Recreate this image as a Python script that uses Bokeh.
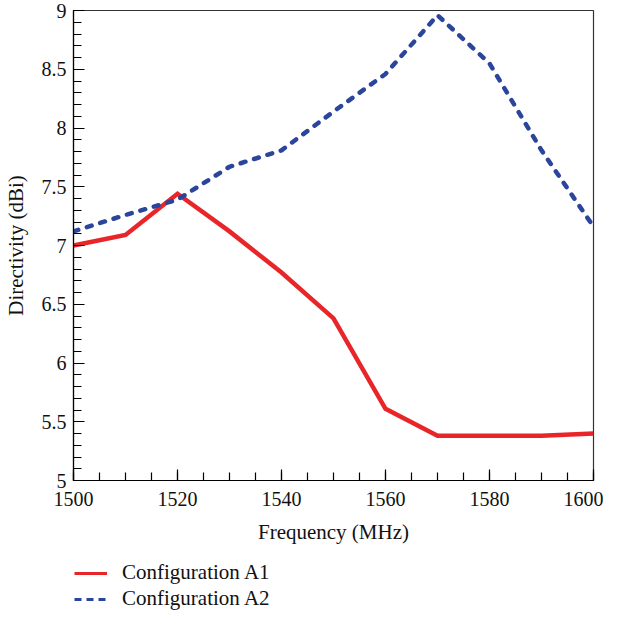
from bokeh.plotting import figure
from bokeh.models import Legend, LegendItem, FixedTicker, Range1d
from bokeh.layouts import column
from bokeh.embed import file_html
from bokeh.resources import INLINE

freq = [1500, 1510, 1520, 1530, 1540, 1550, 1560, 1570, 1580, 1590, 1600]
a1 = [7.00, 7.09, 7.44, 7.12, 6.77, 6.38, 5.61, 5.38, 5.38, 5.38, 5.40]
a2 = [7.12, 7.26, 7.39, 7.67, 7.81, 8.14, 8.46, 8.96, 8.55, 7.81, 7.16]
series_names = ["Configuration A1", "Configuration A2"]

x_ticks = [1500, 1520, 1540, 1560, 1580, 1600]
y_ticks = [5, 5.5, 6, 6.5, 7, 7.5, 8, 8.5, 9]
y_labels = ["5", "5.5", "6", "6.5", "7", "7.5", "8", "8.5", "9"]
x_minor = [1500 + 5 * i for i in range(21)]
y_minor = [round(5 + 0.1 * i, 1) for i in range(41)]

FONT = "Liberation Serif"
RED = "#e8262a"
BLUE = "#2a459b"

p = figure(width=603, height=551, output_backend="svg", toolbar_location=None,
           x_range=Range1d(1500, 1600), y_range=Range1d(5, 9),
           min_border_left=64, min_border_right=10, min_border_top=10,
           min_border_bottom=71,
           x_axis_label="Frequency (MHz)", y_axis_label="Directivity (dBi)")
p.grid.visible = False
p.outline_line_color = "#333333"
p.outline_line_width = 1.2

p.line(freq, a1, line_color=RED, line_width=4.5, line_join="miter")
p.line(freq, a2, line_color=BLUE, line_width=4.5, line_dash="5 9", line_cap="round")

p.xaxis.ticker = FixedTicker(ticks=x_ticks, minor_ticks=x_minor)
p.yaxis.ticker = FixedTicker(ticks=y_ticks, minor_ticks=y_minor)
p.yaxis.major_label_overrides = {t: l for t, l in zip(y_ticks, y_labels)}
for ax in (p.xaxis, p.yaxis):
    ax.axis_line_color = "black"
    ax.axis_line_width = 1.2
    ax.major_tick_line_color = "black"
    ax.minor_tick_line_color = "black"
    ax.major_tick_line_width = 1.2
    ax.minor_tick_line_width = 1.2
    ax.major_tick_in = 11
    ax.major_tick_out = 0
    ax.minor_tick_in = 8
    ax.minor_tick_out = 0
    ax.major_label_text_font = FONT
    ax.major_label_text_font_size = "20px"
    ax.major_label_text_color = "#111111"
    ax.axis_label_text_font = FONT
    ax.axis_label_text_font_size = "21px"
    ax.axis_label_text_font_style = "normal"
    ax.axis_label_text_color = "#111111"
p.xaxis.major_label_standoff = 11
p.yaxis.major_label_standoff = 7
p.xaxis.axis_label_standoff = 11
p.yaxis.axis_label_standoff = 11

# legend panel below the chart
q = figure(width=603, height=60, output_backend="svg", toolbar_location=None,
           x_range=Range1d(0, 1), y_range=Range1d(0, 1),
           x_axis_type=None, y_axis_type=None,
           min_border_left=0, min_border_right=0, min_border_top=0, min_border_bottom=0)
q.grid.visible = False
q.outline_line_color = None
l1 = q.line([-5, -4], [-5, -4], line_color=RED, line_width=3)
l2 = q.line([-5, -4], [-5, -4], line_color=BLUE, line_width=3, line_dash="7 5")

legend = Legend(items=[LegendItem(label=series_names[0], renderers=[l1]),
                       LegendItem(label=series_names[1], renderers=[l2])],
                location=(1, 0), orientation="vertical")
legend.border_line_color = None
legend.background_fill_alpha = 0
legend.label_text_font = FONT
legend.label_text_font_size = "21px"
legend.label_text_color = "#111111"
legend.glyph_width = 33
legend.glyph_height = 20
legend.label_height = 20
legend.label_standoff = 15
legend.spacing = 1
legend.padding = 0
legend.margin = 0
q.add_layout(legend, "center")

layout = column(p, q, spacing=0)
open("out.html", "w").write(file_html(layout, INLINE))
